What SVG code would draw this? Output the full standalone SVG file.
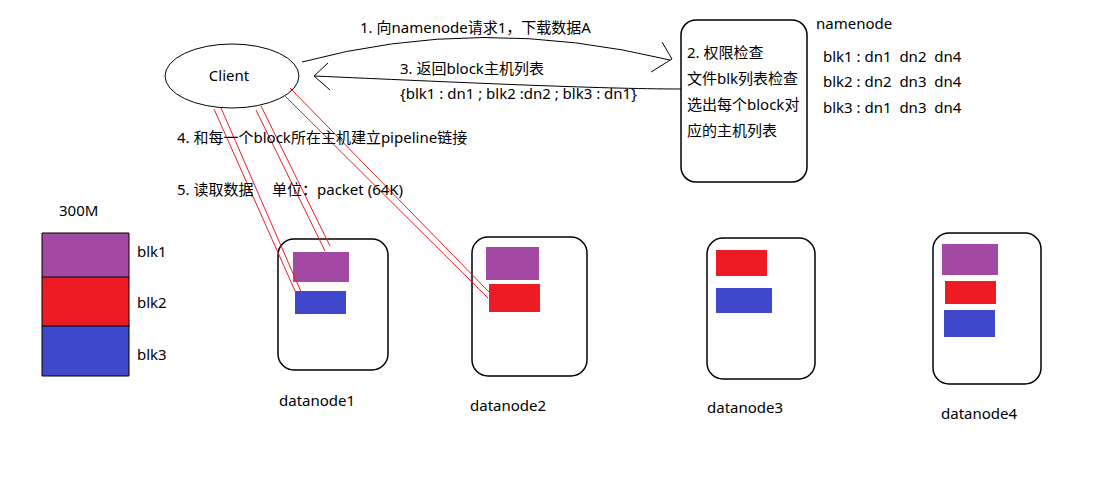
<svg xmlns="http://www.w3.org/2000/svg" width="1116" height="504" viewBox="0 0 1116 504">
<style>
text{font-family:"Noto Sans","Noto Sans CJK SC",sans-serif;font-size:15px;fill:#000}
.box{fill:none;stroke:#000;stroke-width:1.5}
.ln{fill:none;stroke:#000;stroke-width:1}
.red{fill:none;stroke:#ED1C24;stroke-width:1}
.p{fill:#A349A4}.r{fill:#ED1C24}.b{fill:#3F48CC}
</style>
<rect width="1116" height="504" fill="#fff"/>
<g id="client">
<ellipse class="ln" cx="232" cy="76" rx="67" ry="32"/>
<text x="229" y="81" text-anchor="middle">Client</text>
</g>
<g id="namenode">
<rect class="box" x="681" y="20" width="126" height="162" rx="15"/>
<text x="687" y="58">2. 权限检查</text>
<text x="687" y="84">文件blk列表检查</text>
<text x="687" y="110">选出每个block对</text>
<text x="687" y="136">应的主机列表</text>
<text x="816" y="29">namenode</text>
<text x="823" y="62" xml:space="preserve">blk1 : dn1  dn2  dn4</text>
<text x="823" y="87" xml:space="preserve">blk2 : dn2  dn3  dn4</text>
<text x="823" y="113" xml:space="preserve">blk3 : dn1  dn3  dn4</text>
</g>
<g id="file">
<text x="59" y="216">300M</text>
<rect class="p" x="42" y="233" width="87" height="44"/>
<rect class="r" x="42" y="277" width="87" height="49"/>
<rect class="b" x="42" y="326" width="87" height="50"/>
<path class="ln" d="M42,233H129V376H42Z M42,277H129 M42,326H130"/>
<text x="137" y="257">blk1</text>
<text x="137" y="308">blk2</text>
<text x="137" y="360">blk3</text>
</g>
<g id="datanode1">
<rect class="box" x="278" y="239" width="110" height="131" rx="16"/>
<rect class="p" x="293" y="252" width="56" height="30"/>
<rect class="b" x="295" y="291" width="51" height="23"/>
<text x="279" y="406">datanode1</text>
</g>
<g id="datanode2">
<rect class="box" x="472" y="237" width="115" height="139" rx="16"/>
<rect class="p" x="486" y="247" width="53" height="33"/>
<rect class="r" x="489" y="284" width="51" height="28"/>
<text x="470" y="411">datanode2</text>
</g>
<g id="datanode3">
<rect class="box" x="707" y="238" width="108" height="141" rx="16"/>
<rect class="r" x="716" y="250" width="51" height="26"/>
<rect class="b" x="716" y="288" width="56" height="25"/>
<text x="707" y="413">datanode3</text>
</g>
<g id="datanode4">
<rect class="box" x="933" y="233" width="108" height="151" rx="16"/>
<rect class="p" x="942" y="244" width="56" height="31"/>
<rect class="r" x="945" y="281" width="51" height="23"/>
<rect class="b" x="944" y="310" width="51" height="27"/>
<text x="941" y="419">datanode4</text>
</g>
<g id="connectors">
<path class="ln" d="M302,62 Q480,14 670,60"/>
<path class="ln" d="M662,42 L672,59 L651,72"/>
<path class="ln" d="M681,89 C600,89 450,82 314,76"/>
<path class="ln" d="M328,63 L314,76 L330,90"/>
<path class="red" d="M214,109 L296,293 M221,108 L302,294"/>
<path class="red" d="M256,110 L325,251 M261,106 L330,246"/>
<path class="red" d="M284,95 L488,298 M290,88 L489,292"/>
</g>
<g id="labels">
<text x="360" y="33">1. 向namenode请求1，下载数据A</text>
<text x="400" y="74">3. 返回block主机列表</text>
<text x="400" y="99">{blk1 : dn1 ; blk2 :dn2 ; blk3 : dn1}</text>
<text x="177" y="143">4. 和每一个block所在主机建立pipeline链接</text>
<text x="177" y="195">5. 读取数据</text>
<text x="272" y="195">单位：packet (64K)</text>
</g>
</svg>
